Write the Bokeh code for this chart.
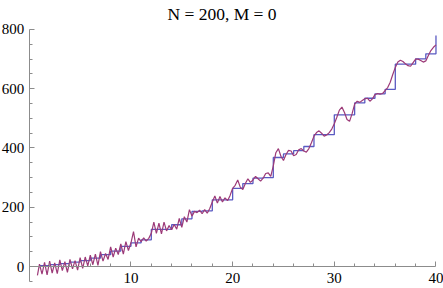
from bokeh.plotting import figure
from bokeh.models import FixedTicker, Range1d
from bokeh.embed import file_html
from bokeh.resources import INLINE

# staircase (value held on [n, n+1))
step_x = [1, 2, 3, 4, 5, 6, 7, 8, 9, 10, 11, 12, 13, 14, 15, 16, 17, 18, 19, 20,
          21, 22, 23, 24, 25, 26, 27, 28, 29, 30, 31, 32, 33, 34, 35, 36, 37, 38, 39, 40]
step_y = [3, 6, 10, 15, 20, 28, 40, 52, 68, 80, 90, 125, 125, 141, 161, 186, 188, 225, 225, 264,
          280, 298, 300, 368, 380, 391, 405, 445, 445, 512, 512, 552, 568, 583, 598, 683, 683, 701, 718, 780]

# smooth approximation (purple)
curve_x = [0.8, 1.0, 1.25, 1.5, 1.75, 2.0, 2.25, 2.5, 2.75, 3.0, 3.25, 3.5, 3.75, 4.0, 4.25, 4.5, 4.75,
           5.0, 5.25, 5.5, 5.75, 6.0, 6.25, 6.5, 6.75, 7.0, 7.25, 7.5, 7.75, 8.0, 8.25, 8.5, 8.75,
           9.0, 9.25, 9.5, 9.75, 10.0, 10.25, 10.5, 10.75, 11.0, 11.25, 11.5, 11.75, 12.0, 12.25, 12.5, 12.75,
           13.0, 13.25, 13.5, 13.75, 14.0, 14.25, 14.5, 14.75, 15.0, 15.25, 15.5, 15.75, 16.0, 16.25, 16.5, 16.75,
           17.0, 17.25, 17.5, 17.75, 18.0, 18.25, 18.5, 18.75, 19.0, 19.25, 19.5, 19.75, 20.0, 20.25, 20.5, 20.75,
           21.0, 21.25, 21.5, 21.75, 22.0, 22.25, 22.5, 22.75, 23.0, 23.25, 23.5, 23.75, 24.0, 24.25, 24.5, 24.75,
           25.0, 25.25, 25.5, 25.75, 26.0, 26.25, 26.5, 26.75, 27.0, 27.25, 27.5, 27.75, 28.0, 28.25, 28.5, 28.75,
           29.0, 29.25, 29.5, 29.75, 30.0, 30.25, 30.5, 30.75, 31.0, 31.25, 31.5, 31.75, 32.0, 32.25, 32.5, 32.75,
           33.0, 33.25, 33.5, 33.75, 34.0, 34.25, 34.5, 34.75, 35.0, 35.25, 35.5, 35.75, 36.0, 36.25, 36.5, 36.75,
           37.0, 37.25, 37.5, 37.75, 38.0, 38.25, 38.5, 38.75, 39.0, 39.25, 39.5, 39.75, 40.0]
curve_y = [-30, 8, -26, 14, -28, 18, -22, 12, -24, 22, -14, 16, -20, 24, -8, 20, -12,
           30, -6, 32, 2, 38, 6, 42, 4, 50, 18, 44, 24, 66, 32, 62, 40,
           76, 42, 84, 54, 80, 118, 66, 96, 84, 97, 86, 95, 112, 150, 112, 146,
           110, 150, 120, 138, 124, 142, 126, 162, 132, 168, 150, 192, 170, 186, 182, 190,
           178, 192, 180, 196, 218, 238, 214, 236, 218, 232, 222, 240, 264, 274, 292, 268,
           260, 280, 296, 284, 292, 304, 296, 288, 298, 314, 316, 304, 340, 384, 398, 372,
           358, 378, 392, 390, 374, 378, 394, 398, 390, 386, 398, 418, 440, 452, 458, 450,
           440, 444, 452, 464, 482, 504, 528, 538, 520, 496, 490, 516, 548, 558, 554, 560,
           566, 568, 558, 566, 580, 584, 582, 584, 594, 604, 622, 648, 672, 690, 696, 692,
           684, 678, 676, 688, 700, 700, 695, 690, 694, 712, 729, 740, 748]

x_ticks = [10, 20, 30, 40]
x_minor = [2, 4, 6, 8, 12, 14, 16, 18, 22, 24, 26, 28, 32, 34, 36, 38]
y_ticks = [0, 200, 400, 600, 800]
y_minor = [-50, 50, 100, 150, 250, 300, 350, 450, 500, 550, 650, 700, 750]

SERIF = "Liberation Serif"

p = figure(width=443, height=288, x_range=Range1d(-2.833, 40.74), y_range=Range1d(-74.26, 820.25),
           output_backend="svg", toolbar_location=None, title="N = 200, M = 0",
           min_border_left=0, min_border_right=0, min_border_top=23, min_border_bottom=0)
p.background_fill_color = "white"
p.border_fill_color = "white"
p.outline_line_color = None
p.xgrid.visible = False
p.ygrid.visible = False

p.title.align = "center"
p.title.text_font = SERIF
p.title.text_font_size = "17.5px"
p.title.text_font_style = "normal"
p.title.text_color = "black"
p.title.standoff = 0

p.step(step_x, step_y, mode="after", line_color="#5a5ac2", line_width=1.3)
p.line(curve_x, curve_y, line_color="#9c3a78", line_width=1.2)

ax = p.xaxis[0]
ax.fixed_location = 0
ax.bounds = (0, 40)
ax.ticker = FixedTicker(ticks=x_ticks, minor_ticks=x_minor)
ay = p.yaxis[0]
ay.fixed_location = 0
ay.bounds = (-50, 800)
ay.ticker = FixedTicker(ticks=y_ticks, minor_ticks=y_minor)
for a in (ax, ay):
    a.axis_line_color = "#8c8c8c"
    a.major_tick_line_color = "#8c8c8c"
    a.minor_tick_line_color = "#8c8c8c"
    a.major_tick_in = 5
    a.major_tick_out = 0
    a.minor_tick_in = 3
    a.minor_tick_out = 0
    a.major_label_text_font = SERIF
    a.major_label_text_font_size = "15px"
    a.major_label_text_color = "black"
ax.major_label_standoff = 6
ay.major_label_standoff = 5

open("out.html", "w").write(file_html(p, INLINE))
